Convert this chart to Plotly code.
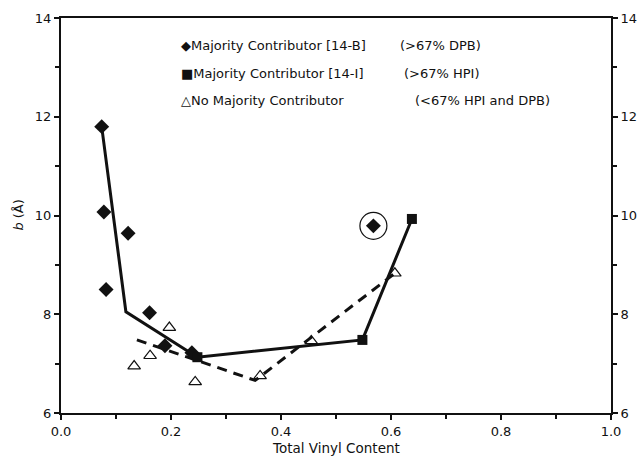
import plotly.graph_objects as go

# Majority contributor [14-B] (>67% DPB)
dpb_x = [0.074, 0.078, 0.082, 0.122, 0.161, 0.189, 0.238, 0.568]
dpb_y = [11.80, 10.07, 8.50, 9.64, 8.03, 7.36, 7.22, 9.79]

# Majority contributor [14-I] (>67% HPI)
hpi_x = [0.248, 0.548, 0.638]
hpi_y = [7.13, 7.48, 9.93]

# No majority contributor (<67% HPI and DPB)
mix_x = [0.133, 0.162, 0.197, 0.244, 0.362, 0.455, 0.607]
mix_y = [6.95, 7.16, 7.73, 6.63, 6.75, 7.46, 8.83]

# Highlighted outlier
outlier_x = [0.568]
outlier_y = [9.79]

# Trend lines
solid_x = [0.074, 0.118, 0.248, 0.548, 0.638]
solid_y = [11.80, 8.05, 7.13, 7.48, 9.93]
dash_x = [0.138, 0.353, 0.607]
dash_y = [7.48, 6.66, 8.83]

x_ticks = [0.0, 0.2, 0.4, 0.6, 0.8, 1.0]
y_ticks = [6, 8, 10, 12, 14]

legend_rows = [
    ("◆Majority Contributor [14-B]", "(>67% DPB)", 0.613),
    ("■Majority Contributor [14-I]", "(>67% HPI)", 0.620),
    ("△No Majority Contributor", "(<67% HPI and DPB)", 0.640),
]
legend_y = [13.45, 12.88, 12.32]

FONT = "DejaVu Sans"
fig = go.Figure()

fig.add_trace(go.Scatter(x=solid_x, y=solid_y, mode="lines",
                         line=dict(color="#111", width=3), hoverinfo="skip"))
fig.add_trace(go.Scatter(x=dash_x, y=dash_y, mode="lines",
                         line=dict(color="#111", width=3, dash="10px,7px"), hoverinfo="skip"))
fig.add_trace(go.Scatter(x=mix_x, y=mix_y, mode="markers",
                         marker=dict(symbol="triangle-up-open", size=11,
                                     color="#111", line=dict(width=1.2))))
fig.add_trace(go.Scatter(x=dpb_x, y=dpb_y, mode="markers",
                         marker=dict(symbol="diamond", size=11.5, color="#111")))
fig.add_trace(go.Scatter(x=hpi_x, y=hpi_y, mode="markers",
                         marker=dict(symbol="square", size=10, color="#111")))
fig.add_trace(go.Scatter(x=outlier_x, y=outlier_y, mode="markers",
                         marker=dict(symbol="circle-open", size=27, color="#111",
                                     line=dict(width=1.2))))
# carrier for the right-hand axis
fig.add_trace(go.Scatter(x=[0.5], y=[10], yaxis="y2", mode="markers",
                         marker=dict(opacity=0), hoverinfo="skip"))

for (label, note, note_x), ly in zip(legend_rows, legend_y):
    fig.add_annotation(x=0.214, y=ly, xref="paper", yref="y", text=label,
                       showarrow=False, xanchor="left", yanchor="middle",
                       font=dict(family=FONT, size=13, color="#111"))
    fig.add_annotation(x=note_x, y=ly, xref="paper", yref="y", text=note,
                       showarrow=False, xanchor="left", yanchor="middle",
                       font=dict(family=FONT, size=13, color="#111"))

fig.add_annotation(x=0.5, y=-0.089, xref="paper", yref="paper",
                   text="Total Vinyl Content", showarrow=False,
                   xanchor="center", yanchor="middle",
                   font=dict(family=FONT, size=13.5, color="#111"))
fig.add_annotation(x=-0.078, y=0.50, xref="paper", yref="paper",
                   text="<i>b</i> (Å)", showarrow=False, textangle=-90,
                   xanchor="center", yanchor="middle",
                   font=dict(family=FONT, size=13, color="#111"))

axis_common = dict(showgrid=False, zeroline=False, showline=True,
                   linecolor="#111", linewidth=2, ticks="outside",
                   tickcolor="#111", ticklen=5, tickwidth=1.5, automargin=False,
                   tickfont=dict(family=FONT, size=13, color="#111"))

fig.update_layout(
    width=637, height=459,
    margin=dict(l=61, r=26, t=18, b=46),
    paper_bgcolor="white", plot_bgcolor="white",
    showlegend=False,
    xaxis=dict(range=[0, 1], tickvals=x_ticks, ticktext=[f"{v:.1f}" for v in x_ticks],
               mirror=True, minor=dict(dtick=0.1, ticks="outside", ticklen=4,
                                       tickcolor="#111"),
               **axis_common),
    yaxis=dict(range=[6, 14], tickvals=y_ticks,
               minor=dict(dtick=1, ticks="outside", ticklen=4, tickcolor="#111"),
               **axis_common),
    yaxis2=dict(range=[6, 14], tickvals=y_ticks, overlaying="y", side="right",
                minor=dict(dtick=1, ticks="outside", ticklen=4, tickcolor="#111"),
                **axis_common),
)

fig.write_html("out.html")
